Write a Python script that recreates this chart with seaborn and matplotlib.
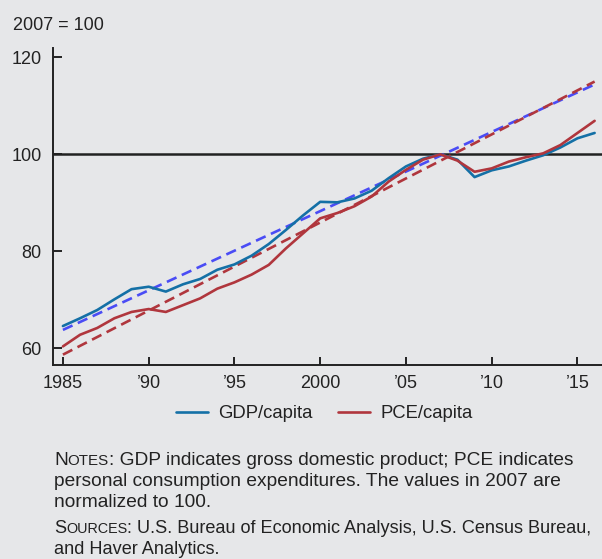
import pandas as pd
import matplotlib
matplotlib.use("Agg")
import matplotlib.pyplot as plt
import seaborn as sns

# index values, 2007 = 100
years = list(range(1985, 2017))
gdp = [64.6, 66.2, 67.9, 70.1, 72.2, 72.7, 71.7, 73.2, 74.3, 76.2,
       77.3, 79.1, 81.5, 84.4, 87.4, 90.2, 90.1, 90.9, 92.5, 95.1,
       97.5, 99.1, 100.0, 98.9, 95.3, 96.7, 97.5, 98.7, 99.8, 101.4,
       103.3, 104.4]
pce = [60.4, 62.8, 64.2, 66.2, 67.5, 68.1, 67.5, 68.9, 70.3, 72.3,
       73.6, 75.2, 77.2, 80.6, 83.7, 86.8, 87.9, 89.3, 91.3, 94.4,
       96.8, 98.9, 100.0, 98.7, 96.4, 97.1, 98.5, 99.4, 100.2, 101.9,
       104.4, 106.9]

# trend lines (start / end)
trend_years = [1985, 2016]
gdp_trend = [63.8, 114.4]
pce_trend = [58.7, 115.0]

xticks = [1985, 1990, 1995, 2000, 2005, 2010, 2015]
xtick_labels = ["1985", "\u201990", "\u201995", "2000", "\u201905", "\u201910", "\u201915"]
yticks = [60, 80, 100, 120]

BG = "#e6e7e9"
BLUE = "#1470a6"
RED = "#b0363d"
BLUE_DASH = "#4a4cf5"

sns.set_theme(style="white")
plt.rcParams["font.family"] = ["Liberation Sans", "DejaVu Sans"]

df = pd.DataFrame({"year": years, "GDP/capita": gdp, "PCE/capita": pce})
tr = pd.DataFrame({"year": trend_years, "gdp": gdp_trend, "pce": pce_trend})

fig = plt.figure(figsize=(6.02, 5.59), dpi=100, facecolor=BG)
ax = fig.add_axes([0.088, 0.347, 0.912, 0.567])
ax.set_facecolor(BG)

ax.axhline(100, color="#222222", lw=1.8, zorder=1)

sns.lineplot(data=tr, x="year", y="gdp", ax=ax, color=BLUE_DASH, lw=1.9,
             linestyle=(0, (4, 2.2)), zorder=2)
sns.lineplot(data=tr, x="year", y="pce", ax=ax, color=RED, lw=1.9,
             linestyle=(0, (4, 2.2)), zorder=2)
sns.lineplot(data=df, x="year", y="GDP/capita", ax=ax, color=BLUE, lw=1.9,
             label="GDP/capita", zorder=3)
sns.lineplot(data=df, x="year", y="PCE/capita", ax=ax, color=RED, lw=1.9,
             label="PCE/capita", zorder=3)

ax.set_xlim(1984.42, 2016.43)
ax.set_ylim(56.56, 121.9)
ax.set_xticks(xticks)
ax.set_xticklabels(xtick_labels)
ax.set_yticks(yticks)
ax.set_xlabel("")
ax.set_ylabel("")

for s in ["top", "right"]:
    ax.spines[s].set_visible(False)
for s in ["left", "bottom"]:
    ax.spines[s].set_color("#222222")
    ax.spines[s].set_linewidth(1.4)

ax.tick_params(axis="x", direction="in", length=6, width=1.4, color="#222222",
               labelsize=13, labelcolor="#222222", pad=7, bottom=True)
ax.tick_params(axis="y", direction="in", length=6.5, width=1.4, color="#222222",
               labelsize=13, labelcolor="#222222", pad=8, left=True)

leg = ax.legend(loc="center", bbox_to_anchor=(324 / 602, 1 - 414 / 559),
                bbox_transform=fig.transFigure, ncol=2, frameon=False,
                fontsize=13.3, handlelength=1.75, handletextpad=0.55,
                columnspacing=1.35)
for t in leg.get_texts():
    t.set_color("#222222")

fig.text(13 / 602, 1 - 30.5 / 559, "2007 = 100", fontsize=13, color="#222222",
         va="baseline", ha="left")

# notes with small caps headings
renderer = fig.canvas.get_renderer()


def runs(x_px, base_px, parts, scale=1.0):
    x = x_px
    for s, size in parts:
        t = fig.text(x / 602, 1 - base_px / 559, s, fontsize=size * scale,
                     color="#222222", va="baseline", ha="left")
        x += t.get_window_extent(renderer).width


def measure(parts):
    w = 0
    for s, size in parts:
        t = fig.text(0, 0, s, fontsize=size)
        w += t.get_window_extent(renderer).width
        t.remove()
    return w


big, small = 13.8, 10.9
notes1 = [("N", big), ("OTES", small),
          (": GDP indicates gross domestic product; PCE indicates", big)]
src1 = [("S", big), ("OURCES", small),
        (": U.S. Bureau of Economic Analysis, U.S. Census Bureau,", big)]
k = min(1.0, 538 / measure(src1))

runs(54, 465, notes1)
runs(54, 486, [("personal consumption expenditures. The values in 2007 are", big)])
runs(54, 506.7, [("normalized to 100.", big)])
runs(54, 533.3, src1, k)
runs(54, 554.3, [("and Haver Analytics.", big)], k)

fig.savefig("out.png", dpi=100, facecolor=BG)
